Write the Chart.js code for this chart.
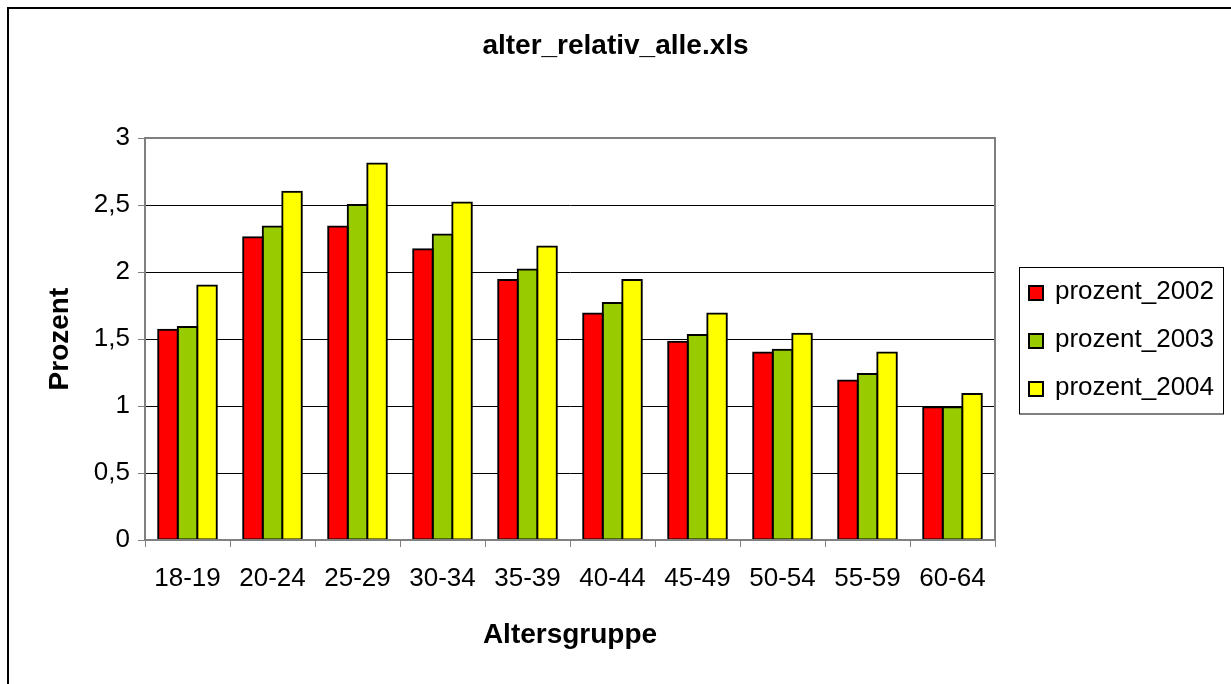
<!DOCTYPE html>
<html>
<head>
<meta charset="utf-8">
<script src="https://cdn.jsdelivr.net/npm/chart.js@4.4.1/dist/chart.umd.min.js"></script>
<style>
  html, body { margin: 0; padding: 0; background: #fff; }
  canvas { display: block; }
</style>
</head>
<body>
<canvas id="chart" width="1231" height="684"></canvas>
<script>
document.addEventListener("DOMContentLoaded", function() {

  const labelsAge = ["18-19", "20-24", "25-29", "30-34", "35-39", "40-44", "45-49", "50-54", "55-59", "60-64"];

  const prozent2002 = [1.57, 2.26, 2.34, 2.17, 1.94, 1.69, 1.48, 1.40, 1.19, 0.99];
  const prozent2003 = [1.59, 2.34, 2.50, 2.28, 2.02, 1.77, 1.53, 1.42, 1.24, 0.99];
  const prozent2004 = [1.90, 2.60, 2.81, 2.52, 2.19, 1.94, 1.69, 1.54, 1.40, 1.09];

  const seriesNames = ["prozent_2002", "prozent_2003", "prozent_2004"];
  const seriesColors = ["#FF0000", "#99CC00", "#FFFF00"];

  const fontFamily = '"Liberation Sans", Arial, sans-serif';

  // outer frame + plot area border (Excel look)
  const frame = {
    id: "frame",
    beforeDraw(chart) {
      const ctx = chart.ctx;
      ctx.save();
      ctx.fillStyle = "#fff";
      ctx.fillRect(0, 0, chart.width, chart.height);
      ctx.strokeStyle = "#000";
      ctx.lineWidth = 2;
      ctx.strokeRect(8, 8, 1400, 900);
      ctx.restore();
    },
    beforeDatasetsDraw(chart) {
      const a = chart.chartArea;
      const ctx = chart.ctx;
      ctx.save();
      ctx.strokeStyle = "#808080";
      ctx.lineWidth = 2;
      ctx.beginPath();
      ctx.moveTo(a.left, a.top);
      ctx.lineTo(a.right, a.top);
      ctx.lineTo(a.right, a.bottom);
      ctx.stroke();
      ctx.restore();
    }
  };

  // boxed legend on the right, from the datasets
  const boxLegend = {
    id: "boxLegend",
    afterDraw(chart) {
      const ctx = chart.ctx;
      ctx.save();
      ctx.strokeStyle = "#000";
      ctx.lineWidth = 1;
      ctx.strokeRect(1019.5, 267.5, 204, 146.5);
      ctx.font = "26px " + fontFamily;
      ctx.textBaseline = "middle";
      ctx.textAlign = "left";
      chart.data.datasets.forEach((ds, i) => {
        const cy = 293 + i * 48;
        ctx.fillStyle = ds.backgroundColor;
        ctx.fillRect(1029, cy - 7, 14, 14);
        ctx.lineWidth = 2;
        ctx.strokeStyle = "#000";
        ctx.strokeRect(1029, cy - 7, 14, 14);
        ctx.fillStyle = "#000";
        ctx.fillText(ds.label, 1055, cy - 1);
      });
      ctx.restore();
    }
  };

  const ctxAge = document.getElementById("chart").getContext("2d");
  const ageChart = new Chart(ctxAge, {
    type: "bar",
    data: {
      labels: labelsAge,
      datasets: [prozent2002, prozent2003, prozent2004].map((values, i) => ({
        label: seriesNames[i],
        data: values,
        backgroundColor: seriesColors[i],
        borderColor: "#000",
        borderWidth: 2,
        inflateAmount: 1,
        borderSkipped: false,
        categoryPercentage: 0.69,
        barPercentage: 1.0,
        yAxisID: "y",
      })),
    },
    options: {
      responsive: false,
      animation: false,
      devicePixelRatio: 1,
      layout: {
        padding: { left: 8, top: 8, right: 8, bottom: 0 },
      },
      scales: {
        x: {
          offset: true,
          afterFit: (s) => { s.height = 144; },
          grid: {
            display: true,
            drawOnChartArea: false,
            tickLength: 7,
            tickColor: "#808080",
            color: "#808080",
          },
          border: { color: "#808080", width: 2, z: 1 },
          ticks: {
            color: "#000",
            padding: 16,
            font: { family: fontFamily, size: 26 },
          },
          title: {
            display: true,
            text: "Altersgruppe",
            color: "#000",
            font: { family: fontFamily, size: 28, weight: "bold" },
            padding: { top: 0, bottom: 32 },
          },
        },
        y: {
          min: 0,
          max: 3,
          afterFit: (s) => { s.width = 137; },
          grid: {
            color: "#000",
            lineWidth: 1,
            tickLength: 7,
            tickColor: "#808080",
          },
          border: { color: "#808080", width: 2 },
          ticks: {
            stepSize: 0.5,
            color: "#000",
            padding: 8,
            font: { family: fontFamily, size: 26 },
            callback: function(value) {
              return value.toString().replace(".", ",");
            },
          },
          title: {
            display: true,
            text: "Prozent",
            color: "#000",
            font: { family: fontFamily, size: 28, weight: "bold" },
            padding: { top: 35, bottom: 0 },
          },
        },
        // empty right-hand space that holds the legend
        yLegend: {
          position: "right",
          display: true,
          afterFit: (s) => { s.width = 228; },
          grid: { display: false },
          border: { display: false },
          ticks: { display: false },
        },
      },
      plugins: {
        legend: { display: false },
        tooltip: { enabled: false },
        title: {
          display: true,
          text: "alter_relativ_alle.xls",
          color: "#000",
          font: { family: fontFamily, size: 28, weight: "bold" },
          padding: { top: 21, bottom: 75.5 },
        },
      },
    },
    plugins: [frame, boxLegend],
  });

});
</script>
</body>
</html>
